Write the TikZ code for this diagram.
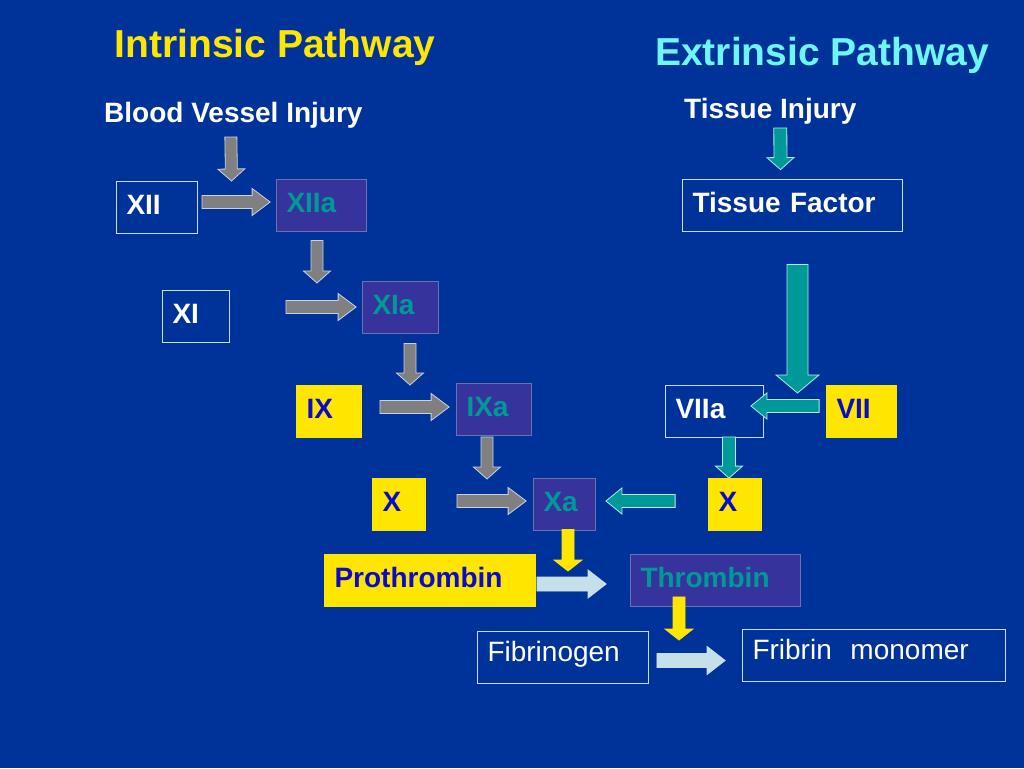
\documentclass[tikz,border=0pt]{standalone}
\usepackage{fontspec}
\setmainfont{Liberation Sans}
\usepackage{tikz}
\usetikzlibrary{calc}

\definecolor{bg}{RGB}{0,51,153}
\definecolor{afill}{RGB}{54,52,156}
\definecolor{aedge}{RGB}{105,115,175}
\definecolor{ateal}{RGB}{0,153,153}
\definecolor{wedge}{RGB}{205,220,250}
\definecolor{ybox}{RGB}{255,230,0}
\definecolor{ytext}{RGB}{10,10,205}
\definecolor{ctitle}{RGB}{110,245,245}
\definecolor{agray}{RGB}{128,128,128}
\definecolor{gedge}{RGB}{200,210,225}
\definecolor{tedge}{RGB}{185,230,230}
\definecolor{lblue}{RGB}{198,224,234}

\newcommand\lbl{\fontsize{28}{30}\selectfont\bfseries}
\newcommand\lblr{\fontsize{28}{30}\selectfont}
\newcommand\ttl{\fontsize{39}{44}\selectfont\bfseries}

\tikzset{
  box/.style={draw=wedge, line width=0.8pt, fill=bg, text=white, font=\lbl, align=left,
    text height=20pt, text depth=6pt, inner xsep=10pt, minimum height=52pt},
  act/.style={box, draw=aedge, fill=afill, text=ateal},
  yel/.style={box, draw=ybox, fill=ybox, text=ytext},
  plain/.style={box, font=\lblr, text height=18pt, text depth=10pt},
  head/.style={anchor=base west, inner sep=0pt},
  blk/.style n args={3}{line width=0.8pt, line join=miter, to path={
    let \p1=(\tikztostart), \p2=(\tikztotarget), \n1={atan2(\y2-\y1,\x2-\x1)} in
    ($(\p1)+(\n1+90:#1)$) -- ($(\p2)+(\n1+180:#3)+(\n1+90:#1)$)
    -- ($(\p2)+(\n1+180:#3)+(\n1+90:#2)$) -- (\p2)
    -- ($(\p2)+(\n1+180:#3)+(\n1-90:#2)$) -- ($(\p2)+(\n1+180:#3)+(\n1-90:#1)$)
    -- ($(\p1)+(\n1-90:#1)$) -- cycle}},
  gh/.style={blk={6.5pt}{13.5pt}{18pt}, fill=agray, draw=gedge},
  gv/.style={blk={6pt}{13.5pt}{12pt}, fill=agray, draw=gedge},
  th/.style={blk={6.5pt}{13pt}{16pt}, fill=ateal, draw=tedge},
  tv/.style={blk={6.5pt}{13.5pt}{12pt}, fill=ateal, draw=tedge},
  tbig/.style={blk={10.5pt}{21.5pt}{18pt}, fill=ateal, draw=tedge},
  yv/.style={blk={6pt}{14pt}{11pt}, fill=ybox, draw=ybox},
  bh/.style={blk={7pt}{14pt}{18pt}, fill=lblue, draw=lblue}
}

\begin{document}
\begin{tikzpicture}[x=1pt,y=-1pt]
\useasboundingbox (0,0) rectangle (1024,768);
\fill[bg] (0,0) rectangle (1024,768);

\node[head, font=\ttl, text=ybox] (intr) at (114.5,58) {Intrinsic Pathway};
\node[head, font=\ttl, text=ctitle] (extr) at (655,65) {Extrinsic Pathway};
\node[head, font=\lbl, text=white] (bvi) at (104,122) {Blood Vessel Injury};
\node[head, font=\lbl, text=white] (ti) at (684,118) {Tissue Injury};

\node[box, text width=61pt] (xii) at (157,207) {XII};
\node[act, text width=70pt] (xiia) at (321.5,205) {XIIa};
\node[box, text width=47pt] (xi) at (196,316) {XI};
\node[act, text width=56pt] (xia) at (400.5,307) {XIa};
\node[yel, text width=45pt] (ix) at (329,411.5) {IX};
\node[act, text width=55pt] (ixa) at (494,409.5) {IXa};
\node[yel, text width=33pt] (xl) at (399,504.5) {X};
\node[act, text width=42pt] (xa) at (564.5,504) {Xa};

\node[box, text width=200pt] (tf) at (792.5,205) {Tissue Factor};
\node[box, text width=78pt] (viia) at (714.5,411.5) {VIIa};
\node[yel, text width=50pt] (vii) at (861.5,411.5) {VII};
\node[yel, text width=33pt] (xr) at (735,504.5) {X};

\node[yel, text width=191pt] (pro) at (430,580) {Prothrombin};
\node[act, text width=150pt] (thr) at (715.5,580.5) {Thrombin};
\node[plain, text width=151pt] (fib) at (563,657.5) {Fibrinogen};
\node[plain, text width=243pt] (fm) at (874,655.5) {Fribrin\ \ monomer};

\coordinate (j1) at (231.5,181);
\coordinate (j2) at (317,283);
\coordinate (j3) at (410,385);
\coordinate (j4) at (487,479);
\coordinate (j5) at (797.5,393);
\coordinate (j6) at (568,571);
\coordinate (j7) at (679,640);

\draw[gv] ([xshift=-2.5pt,yshift=-9pt]bvi.south) to (j1);
\draw[gh] ([xshift=4pt,yshift=5pt]xii.east) to ([xshift=-6pt,yshift=3pt]xiia.west);
\draw[gv] ([xshift=-4.5pt,yshift=-9pt]xiia.south) to (j2);
\draw[gh] ([xshift=56pt,yshift=9pt]xi.east) to ([xshift=-6pt]xia.west);
\draw[gv] ([xshift=9.5pt,yshift=-10pt]xia.south) to (j3);
\draw[gh] ([xshift=18pt,yshift=4.5pt]ix.east) to ([xshift=-7pt,yshift=2.5pt]ixa.west);
\draw[gv] ([xshift=-7pt,yshift=-1pt]ixa.south) to (j4);
\draw[gh] ([xshift=31pt,yshift=3.5pt]xl.east) to ([xshift=-7pt,yshift=3pt]xa.west);

\draw[tv] ([xshift=10pt,yshift=-4pt]ti.south) to ([xshift=-12pt,yshift=9pt]tf.north);
\draw[tbig] ([xshift=5pt,yshift=-33pt]tf.south) to (j5);
\draw[th] ([xshift=-7pt,yshift=5.5pt]vii.west) to ([xshift=-13pt,yshift=5.5pt]viia.east);
\draw[tv] ([xshift=14.5pt,yshift=1pt]viia.south) to ([xshift=-6pt]xr.north);
\draw[th] ([xshift=-33pt,yshift=3.5pt]xr.west) to ([xshift=10pt,yshift=3pt]xa.east);

\draw[yv] ([xshift=3.5pt,yshift=1pt]xa.south) to (j6);
\draw[bh] ([xshift=1pt,yshift=-4pt]pro.east) to ([xshift=-24pt,yshift=-3.5pt]thr.west);
\draw[yv] ([xshift=-36.5pt,yshift=10pt]thr.south) to (j7);
\draw[bh] ([xshift=8pt,yshift=-3pt]fib.east) to ([xshift=-17pt,yshift=-5pt]fm.west);
\end{tikzpicture}
\end{document}
